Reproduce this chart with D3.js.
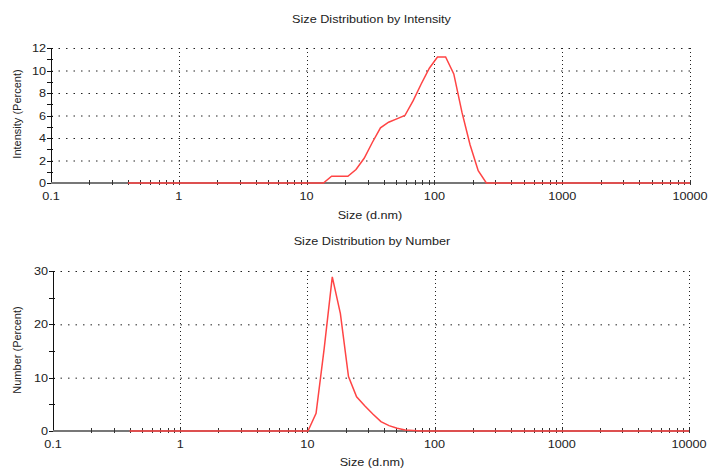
<!DOCTYPE html>
<html>
<head>
<meta charset="utf-8">
<script src="https://cdn.jsdelivr.net/npm/d3@7"></script>
<style>
  body { margin: 0; background: #fff; }
  text { font-family: "Liberation Sans", Arial, sans-serif; font-size: 11px; fill: #222; }
</style>
</head>
<body>
<div id="container"></div>
<script>
// Malvern size classes (d.nm)
var sizes = [0.4, 0.4632, 0.5365, 0.6213, 0.7195, 0.8332, 0.9649, 1.117, 1.294, 1.499,
    1.736, 2.010, 2.328, 2.696, 3.122, 3.615, 4.187, 4.849, 5.615, 6.503,
    7.531, 8.721, 10.10, 11.70, 13.54, 15.69, 18.17, 21.04, 24.36, 28.21,
    32.67, 37.84, 43.82, 50.75, 58.77, 68.06, 78.82, 91.28, 105.7, 122.4,
    141.8, 164.2, 190.1, 220.2, 255.0, 295.3, 342.0, 396.1, 458.7, 531.2,
    615.1, 712.4, 825.0, 955.4, 1106, 1281, 1484, 1718, 1990, 2305,
    2669, 3091, 3580, 4145, 4801, 5560, 6439, 7456, 8635, 10000];

var intensity = [0, 0, 0, 0, 0, 0, 0, 0, 0, 0,
    0, 0, 0, 0, 0, 0, 0, 0, 0, 0,
    0, 0, 0, 0, 0, 0.6, 0.6, 0.6, 1.2, 2.2,
    3.6, 4.9, 5.4, 5.7, 6.0, 7.3, 8.8, 10.2, 11.2, 11.2,
    9.7, 6.3, 3.4, 1.1, 0, 0, 0, 0, 0, 0,
    0, 0, 0, 0, 0, 0, 0, 0, 0, 0,
    0, 0, 0, 0, 0, 0, 0, 0, 0, 0];

var number = [0, 0, 0, 0, 0, 0, 0, 0, 0, 0,
    0, 0, 0, 0, 0, 0, 0, 0, 0, 0,
    0, 0, 0, 3.3, 15.4, 28.9, 22.0, 10.2, 6.4, 4.75,
    3.2, 1.75, 1.0, 0.5, 0.2, 0.1, 0, 0, 0, 0,
    0, 0, 0, 0, 0, 0, 0, 0, 0, 0,
    0, 0, 0, 0, 0, 0, 0, 0, 0, 0,
    0, 0, 0, 0, 0, 0, 0, 0, 0, 0];

var xMajor = [0.1, 1, 10, 100, 1000, 10000];
var xMajorLabels = ["0.1", "1", "10", "100", "1000", "10000"];
var intensityTicks = [0, 2, 4, 6, 8, 10, 12];
var numberTicks = [0, 10, 20, 30];

var svg = d3.select("#container").append("svg")
    .attr("width", 708)
    .attr("height", 468);

// text is a little wider than normal Arial in the reference
function label(g, x, y, str, anchor) {
    return g.append("g")
        .attr("transform", "translate(" + x + "," + y + ") scale(1.15,1)")
        .append("text")
        .attr("text-anchor", anchor)
        .text(str);
}

function drawPanel(p) {
    var g = svg.append("g");
    var x = d3.scaleLog().domain([0.1, 10000]).range([p.left, p.right]);
    var y = d3.scaleLinear().domain([0, p.yMax]).range([p.bottom, p.top]);

    label(g, (p.left + p.right) / 2 + 1, p.titleY, p.title, "middle");

    // horizontal dotted grid
    g.selectAll(".hgrid").data(p.yTicks.filter(function(d) { return d > 0 }))
        .enter().append("line")
        .attr("x1", p.left).attr("x2", p.right)
        .attr("y1", function(d) { return y(d) + 0.5 })
        .attr("y2", function(d) { return y(d) + 0.5 })
        .attr("stroke", "#222")
        .attr("stroke-dasharray", "1.5,6");

    // vertical dotted grid
    g.selectAll(".vgrid").data(xMajor.slice(1))
        .enter().append("line")
        .attr("x1", function(d) { return Math.round(x(d)) + 0.5 })
        .attr("x2", function(d) { return Math.round(x(d)) + 0.5 })
        .attr("y1", p.top).attr("y2", p.bottom)
        .attr("stroke", "#222")
        .attr("stroke-dasharray", "1,3");

    // y axis
    g.append("line")
        .attr("x1", p.left + 0.5).attr("x2", p.left + 0.5)
        .attr("y1", p.top).attr("y2", p.bottom)
        .attr("stroke", "#111");

    var minor = d3.range(0, p.yMax + 0.001, p.yMinor);
    g.selectAll(".ytick").data(minor)
        .enter().append("line")
        .attr("x1", p.left - 4).attr("x2", p.left + 2)
        .attr("y1", function(d) { return Math.round(y(d)) + 0.5 })
        .attr("y2", function(d) { return Math.round(y(d)) + 0.5 })
        .attr("stroke", "#111");

    p.yTicks.forEach(function(d) {
        label(g, p.left - 5, y(d) + 4, String(d), "end");
    });

    // x axis
    g.append("line")
        .attr("x1", p.left).attr("x2", p.right)
        .attr("y1", p.bottom).attr("y2", p.bottom)
        .attr("stroke", "#777")
        .attr("stroke-width", 2);

    var xMinor = [];
    [0.1, 1, 10, 100, 1000].forEach(function(dec) {
        for (var k = 2; k <= 9; k++) xMinor.push(dec * k);
    });
    g.selectAll(".xtick").data(xMinor.concat(xMajor.slice(1)))
        .enter().append("line")
        .attr("x1", function(d) { return Math.round(x(d)) + 0.5 })
        .attr("x2", function(d) { return Math.round(x(d)) + 0.5 })
        .attr("y1", p.bottom - 3).attr("y2", p.bottom + 2)
        .attr("stroke", "#333");

    xMajor.forEach(function(d, i) {
        label(g, x(d), p.bottom + 17, xMajorLabels[i], "middle");
    });

    label(g, p.left + 319, p.xLabelY, "Size (d.nm)", "middle");

    g.append("text")
        .attr("transform", "translate(21," + p.yLabelY + ") rotate(-90)")
        .attr("text-anchor", "middle")
        .text(p.yLabel);

    // distribution curve
    var line = d3.line()
        .x(function(d) { return x(d[0]) })
        .y(function(d) { return y(d[1]) });
    g.append("path")
        .datum(d3.zip(sizes, p.values))
        .attr("d", line)
        .attr("fill", "none")
        .attr("stroke", "#ff4444")
        .attr("stroke-width", 1.5);
}

drawPanel({
    title: "Size Distribution by Intensity",
    yLabel: "Intensity (Percent)",
    values: intensity,
    yTicks: intensityTicks,
    yMax: 12, yMinor: 1,
    left: 51, right: 690, top: 48, bottom: 183,
    titleY: 23, xLabelY: 219, yLabelY: 114
});

drawPanel({
    title: "Size Distribution by Number",
    yLabel: "Number (Percent)",
    values: number,
    yTicks: numberTicks,
    yMax: 30, yMinor: 5,
    left: 53, right: 689, top: 271, bottom: 431,
    titleY: 245, xLabelY: 466, yLabelY: 350
});
</script>
</body>
</html>
